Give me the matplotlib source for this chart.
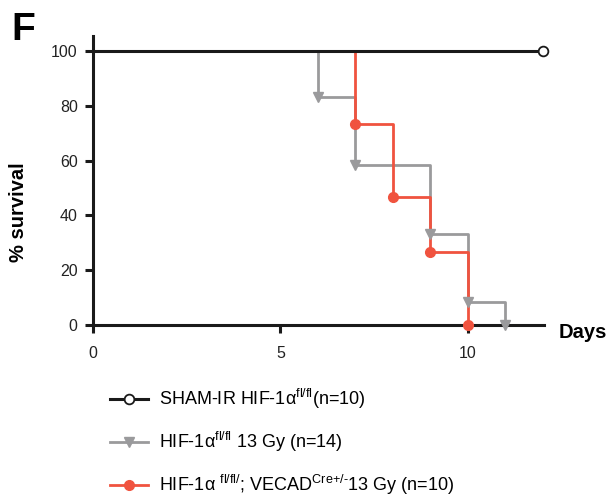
import matplotlib.pyplot as plt
from matplotlib.lines import Line2D

plt.rcParams['font.family'] = ['Liberation Sans', 'DejaVu Sans']
plt.rcParams['mathtext.fontset'] = 'custom'
plt.rcParams['mathtext.rm'] = 'Liberation Sans'
plt.rcParams['mathtext.it'] = 'Liberation Sans'

# survival curves (days, % survival)
sham_days = [0, 12]
sham_surv = [100, 100]

hif_days = [0, 6, 7, 9, 10, 11]
hif_surv = [100, 83.3, 58.3, 33.3, 8.3, 0]

ve_days = [0, 7, 8, 9, 10]
ve_surv = [100, 73.3, 46.7, 26.7, 0]

labels = [
    r'SHAM-IR HIF-1α$^{\text{fl/fl}}$(n=10)',
    r'HIF-1α$^{\text{fl/fl}}$ 13 Gy (n=14)',
    r'HIF-1α $^{\text{fl/fl/}}$; VECAD$^{\text{Cre+/-}}$13 Gy (n=10)',
]

BLACK = '#1a1a1a'
GRAY = '#9a9a9c'
RED = '#f0533f'

fig = plt.figure(figsize=(6.06, 5.0), dpi=100)
ax = fig.add_axes([0.1535, 0.35, 0.745, 0.578])

ax.step(hif_days, hif_surv, where='post', color=GRAY, lw=2.0, zorder=2)
ax.plot(hif_days[1:], hif_surv[1:], ls='none', marker='v', ms=7,
        color=GRAY, zorder=4, clip_on=False)

ax.step(ve_days, ve_surv, where='post', color=RED, lw=2.0, zorder=3)
ax.plot(ve_days[1:], ve_surv[1:], ls='none', marker='o', ms=7,
        color=RED, zorder=5, clip_on=False)

ax.plot(sham_days, sham_surv, color=BLACK, lw=2.2, zorder=4)
ax.plot(sham_days[-1:], sham_surv[-1:], ls='none', marker='o', ms=7,
        mfc='white', mec=BLACK, mew=1.3, zorder=6, clip_on=False)

ax.set_xlim(0, 12.05)
ax.set_ylim(0, 105.5)
ax.set_xticks([0, 5, 10])
ax.set_yticks([0, 20, 40, 60, 80, 100])
ax.tick_params(width=2.2, length=6, labelsize=11.5, color=BLACK, labelcolor='#222222')
ax.tick_params(axis='x', pad=9)
ax.tick_params(axis='y', pad=5)
for s in ['top', 'right']:
    ax.spines[s].set_visible(False)
for s in ['left', 'bottom']:
    ax.spines[s].set_linewidth(2.2)
    ax.spines[s].set_color(BLACK)

fig.text(0.031, 0.576, '% survival', fontsize=14.5, fontweight='bold',
         rotation=90, ha='center', va='center')
fig.text(0.921, 0.334, 'Days', fontsize=14.5, fontweight='bold', va='center')
fig.text(0.018, 0.94, 'F', fontsize=28, fontweight='bold', va='center')

handles = [
    Line2D([], [], color=BLACK, lw=2.2, marker='o', ms=7, mfc='white', mec=BLACK, mew=1.3),
    Line2D([], [], color=GRAY, lw=2.0, marker='v', ms=7),
    Line2D([], [], color=RED, lw=2.0, marker='o', ms=7),
]
fig.legend(handles, labels, loc='upper left', bbox_to_anchor=(0.17, 0.24),
           frameon=False, fontsize=13, labelspacing=1.05,
           handlelength=2.1, handletextpad=0.6, borderaxespad=0)

fig.savefig('out.png', dpi=100)
